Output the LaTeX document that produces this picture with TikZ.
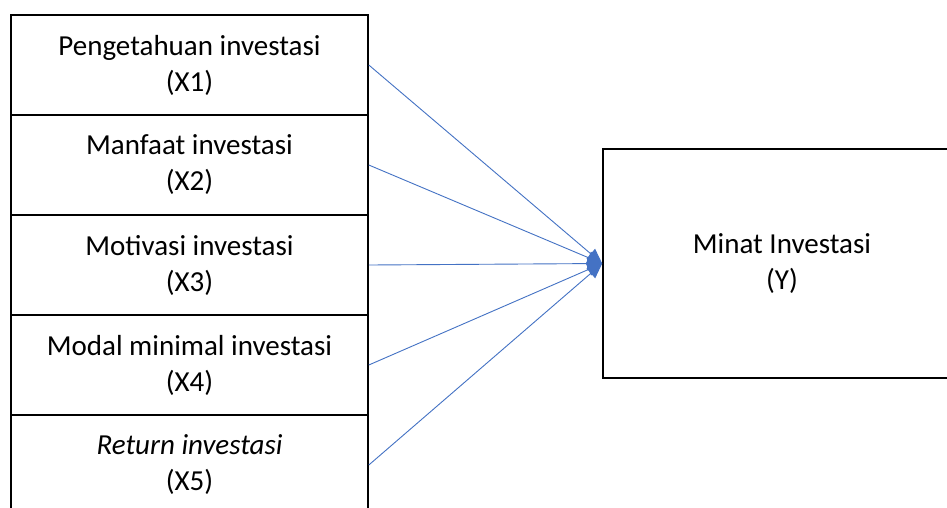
\documentclass[tikz,border=0pt]{standalone}
\usepackage{fontspec}
\setmainfont{Carlito}
\usetikzlibrary{arrows.meta}
\definecolor{lineblue}{HTML}{4472C4}
\begin{document}
\begin{tikzpicture}[x=1pt,y=-1pt,
  varbox/.style={draw=black,line width=1.6pt,minimum width=357pt,minimum height=100pt,
    align=center,inner sep=0pt,font=\fontsize{29}{36}\selectfont},
  link/.style={draw=lineblue,line width=0.9pt,-{Triangle[length=15pt,width=13pt]}}]
\useasboundingbox (0,0) rectangle (947,507);
\fill[white] (0,0) rectangle (947,507);
\node[varbox] (x1) at (189.5,65) {Pengetahuan investasi\\(X1)};
\node[varbox] (x2) at (189.5,165) {Manfaat investasi\\(X2)};
\node[varbox] (x3) at (189.5,265) {Motivasi investasi\\(X3)};
\node[varbox] (x4) at (189.5,365) {Modal minimal investasi\\(X4)};
\node[varbox] (x5) at (189.5,465) {\textit{Return investasi}\\(X5)};
\node[varbox,minimum width=358pt,minimum height=229pt] (y) at (782,263.5) {Minat Investasi\\(Y)};
\foreach \n in {x1,x2,x3,x4,x5}
  \draw[link] (\n.east) -- (y.west);
\end{tikzpicture}
\end{document}
